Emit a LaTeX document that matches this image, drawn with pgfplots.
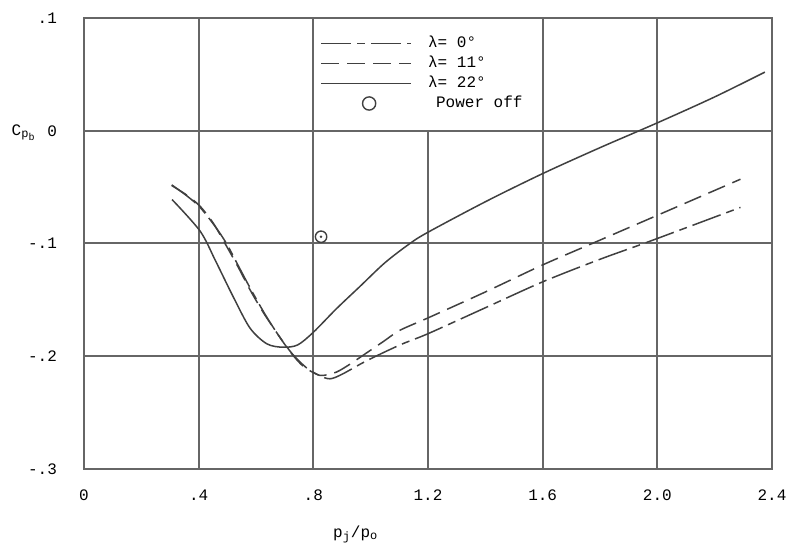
\documentclass[border=0pt]{standalone}
\usepackage{fontspec}
\setmainfont{Liberation Mono}
\usepackage{pgfplots}
\pgfplotsset{compat=1.18}

\newcommand\ff{\fontsize{8}{9.5}\selectfont}
\tikzset{gridline/.style={black!60, line width=1pt}}

\begin{document}
\begin{tikzpicture}
\begin{axis}[
    scale only axis,
    width=344pt, height=225.5pt,
    xmin=0, xmax=2.4, ymin=-0.3, ymax=0.1,
    xtick={0,0.4,0.8,1.2,1.6,2.0,2.4},
    xticklabels={0,.4,.8,1.2,1.6,2.0,2.4},
    ytick={-0.3,-0.2,-0.1,0,0.1},
    yticklabels={-.3,-.2,-.1,0,.1},
    /pgf/number format/assume math mode=true,
    major tick length=0pt,
    axis line style={black!60, line width=1pt},
    xticklabel style={font=\ff, anchor=center, yshift=-13pt},
    yticklabel style={font=\ff, anchor=east, xshift=-10pt},
    xlabel={p\textsubscript{j}/p\textsubscript{o}},
    xlabel style={font=\ff, at={(axis description cs:0.395,-0.146)}, anchor=center},
    ylabel={C\textsubscript{p\textsubscript{b}}},
    ylabel style={font=\ff, rotate=-90, at={(axis description cs:-0.087,0.745)}, anchor=center},
    legend style={at={(rel axis cs:0.343,0.961)}, anchor=north west, draw=none, fill=none,
        inner sep=0pt, row sep=2.5pt, font=\ff,
        nodes={inner sep=0pt, text height=6pt, text depth=1.5pt}},
    legend cell align=left,
    legend image code/.code={\path[draw=none] (0pt,-0.1pt) rectangle (53.5pt,0.1pt);
        \draw[#1] (0pt,0pt) -- (45pt,0pt);},
]
% grid: the cell behind the legend is left open
\draw[gridline] (axis cs:0.4,-0.3) -- (axis cs:0.4,0.1);
\draw[gridline] (axis cs:0.8,-0.3) -- (axis cs:0.8,0.1);
\draw[gridline] (axis cs:1.2,-0.3) -- (axis cs:1.2,0);
\draw[gridline] (axis cs:1.6,-0.3) -- (axis cs:1.6,0.1);
\draw[gridline] (axis cs:2.0,-0.3) -- (axis cs:2.0,0.1);
\draw[gridline] (axis cs:0,0) -- (axis cs:2.4,0);
\draw[gridline] (axis cs:0,-0.1) -- (axis cs:2.4,-0.1);
\draw[gridline] (axis cs:0,-0.2) -- (axis cs:2.4,-0.2);

% lambda = 0 deg
\addplot[black!75, line width=0.75pt, smooth, tension=0.5,
    dash pattern=on 15pt off 3pt on 4pt off 3pt] coordinates {
    (0.306,-0.048) (0.36,-0.058) (0.405,-0.068) (0.455,-0.084) (0.497,-0.100)
    (0.545,-0.123) (0.585,-0.142) (0.632,-0.163) (0.680,-0.182) (0.727,-0.198)
    (0.775,-0.210) (0.820,-0.217) (0.858,-0.220) (0.900,-0.216) (0.986,-0.204)
    (1.102,-0.190) (1.2,-0.180) (1.4,-0.157) (1.6,-0.134) (1.8,-0.114)
    (1.974,-0.098) (2.29,-0.068)
};
\addlegendentry{λ= 0°}

% lambda = 11 deg
\addplot[black!75, line width=0.75pt, smooth, tension=0.5,
    dash pattern=on 9pt off 4pt] coordinates {
    (0.306,-0.0486) (0.358,-0.057) (0.405,-0.067) (0.451,-0.082) (0.492,-0.100)
    (0.538,-0.121) (0.579,-0.141) (0.625,-0.161) (0.672,-0.179) (0.719,-0.196)
    (0.765,-0.209) (0.812,-0.216) (0.835,-0.217) (0.881,-0.214) (0.928,-0.207)
    (0.986,-0.197) (1.044,-0.187) (1.102,-0.177) (1.2,-0.166) (1.4,-0.143)
    (1.6,-0.119) (1.8,-0.097) (2.0,-0.075) (2.29,-0.043)
};
\addlegendentry{λ= 11°}

% lambda = 22 deg
\addplot[black!75, line width=0.75pt, smooth, tension=0.5] coordinates {
    (0.307,-0.061) (0.405,-0.089) (0.46,-0.116) (0.520,-0.147) (0.579,-0.175)
    (0.638,-0.189) (0.694,-0.192) (0.745,-0.190) (0.799,-0.179) (0.88,-0.158)
    (0.963,-0.138) (1.05,-0.117) (1.137,-0.100) (1.2,-0.090) (1.4,-0.063)
    (1.6,-0.038) (1.8,-0.015) (2.0,0.007) (2.2,0.030) (2.375,0.052)
};
\addlegendentry{λ= 22°}

% power off
\addplot[only marks, mark=o, mark size=2.85pt, black!75, line width=0.7pt,
    legend image code/.code={\path[draw=none] (0pt,-0.1pt) rectangle (53.5pt,0.1pt);
        \draw[black!75, line width=0.7pt] (24pt,0pt) circle (3.3pt);}]
    coordinates {(0.827,-0.094)};
\addlegendentry{\hspace{4pt}Power off}
\addplot[only marks, mark=*, mark size=0.4pt, black!75, forget plot]
    coordinates {(0.827,-0.094)};

\coordinate (bl) at (rel axis cs:0,0);
\coordinate (tr) at (rel axis cs:1,1);
\end{axis}
\pgfresetboundingbox
\path ([shift={(-42pt,-42.5pt)}]bl) rectangle ([shift={(12pt,9pt)}]tr);
\end{tikzpicture}
\end{document}
